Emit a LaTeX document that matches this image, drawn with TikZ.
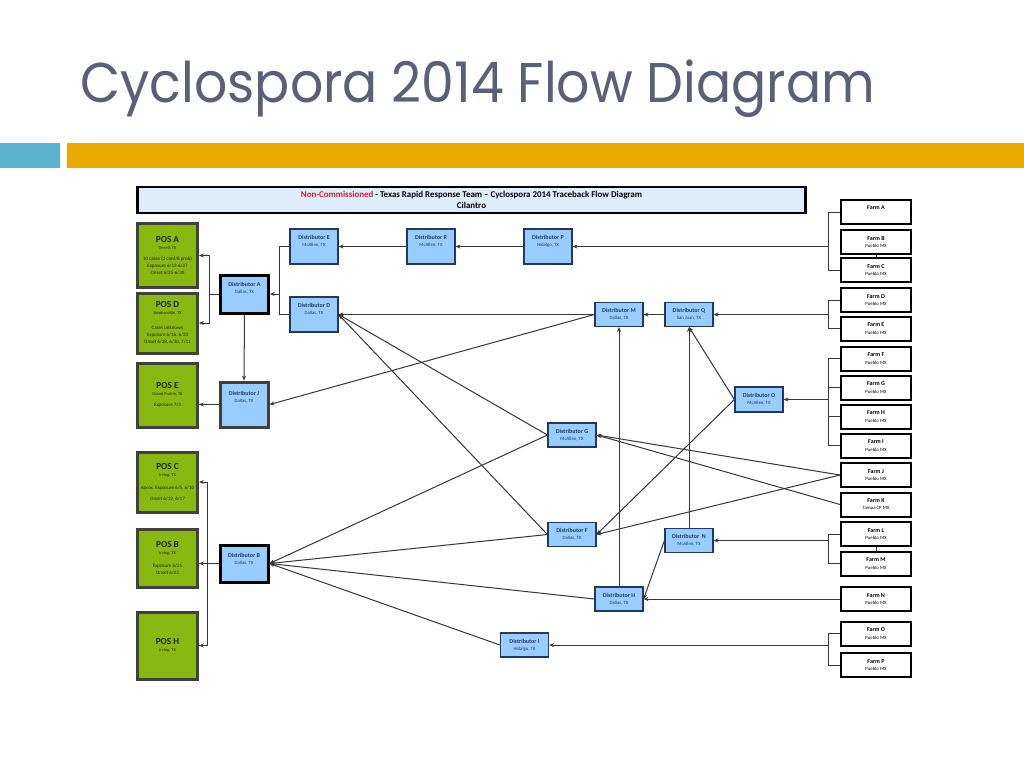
\documentclass[tikz,border=0pt]{standalone}
\usepackage{fontspec}
\usepackage{graphicx}
\setmainfont{Carlito}
\newfontfamily\titlefont{Poppins}
\usetikzlibrary{arrows.meta}
\definecolor{titlegray}{RGB}{90,96,120}
\definecolor{tealbar}{RGB}{91,178,206}
\definecolor{goldbar}{RGB}{234,170,0}
\definecolor{posgreen}{RGB}{138,184,18}
\definecolor{posedge}{RGB}{64,64,64}
\definecolor{postext}{RGB}{25,40,0}
\definecolor{distblue}{RGB}{153,204,255}
\definecolor{distedge}{RGB}{31,56,100}
\definecolor{bannerblue}{RGB}{221,237,250}
\definecolor{linegray}{RGB}{55,55,55}
\definecolor{ncred}{RGB}{220,30,40}
\newcommand{\cityfont}{\fontsize{2.4}{3.2}\selectfont\mdseries}
\newcommand{\posfont}{\fontsize{4.6}{5.6}\selectfont\bfseries}

\begin{document}
\begin{tikzpicture}[x=0.5pt,y=-0.5pt,
    posbox/.style={draw=posedge,line width=1.5pt,fill=posgreen,text=postext,minimum width=30pt,
      inner sep=0pt,align=center,font=\fontsize{2.5}{3.5}\selectfont},
    distbox/.style={draw=distedge,line width=0.6pt,fill=distblue,text=distedge,minimum width=24pt,
      minimum height=12pt,inner sep=0pt,align=center,font=\fontsize{3}{3.6}\selectfont\bfseries},
    hubbox/.style={distbox,draw=black,line width=1.5pt},
    farmbox/.style={draw=black,line width=1pt,fill=white,minimum width=35pt,minimum height=12pt,
      inner sep=0pt,align=center,font=\fontsize{3}{3.6}\selectfont\bfseries},
    banner/.style={draw=black,line width=1.3pt,fill=bannerblue,minimum width=334pt,minimum height=13pt,
      inner sep=0pt,align=center,font=\fontsize{4.45}{5.2}\selectfont\bfseries},
    flow/.style={draw=linegray,line width=0.5pt,-{Stealth[length=2.4pt,width=2pt]}},
    link/.style={draw=linegray,line width=0.5pt}]
    \useasboundingbox (0,0) rectangle (1024,768);
    \fill[white] (0,0) rectangle (1024,768);
    % slide title and bars
    \node[anchor=base west,inner sep=0pt,text=titlegray,font=\titlefont\fontsize{28}{30}\selectfont] (title) at (80,102) {\scalebox{0.93}[1]{Cyclospora 2014 Flow Diagram}};
    \fill[tealbar] (0,143) rectangle (60,168);
    \fill[goldbar] (67,143) rectangle (1024,168);
    \node[banner] (hdr) at (471.5,200) {{\color{ncred}Non-Commissioned} - Texas Rapid Response Team -- Cyclospora 2014 Traceback Flow Diagram\\Cilantro};
    % points of sale
    \node[posbox,minimum height=32pt] (posA) at (167.5,255.5) {{\posfont POS A}\\{\fontsize{2.2}{3.6}\selectfont Terrell, TX}\\[2pt]10 cases (2 conf/8 prob)\\Exposure 6/13-6/27\\Onset 6/25-6/30};
    \node[posbox,minimum height=30pt] (posD) at (167.5,323) {{\posfont POS D}\\{\fontsize{2.2}{3.6}\selectfont Stephenville, TX}\\[4pt]Cases unknown\\Exposure 6/16, 6/23\\Onset 6/28, 6/30, 7/11};
    \node[posbox,minimum height=32pt] (posE) at (167.5,395) {{\posfont POS E}\\{\fontsize{2.2}{3.6}\selectfont Grand Prairie, TX}\\[2pt]Exposure 7/3};
    \node[posbox,minimum height=30pt] (posC) at (167.5,482) {{\posfont POS C}\\{\fontsize{2.2}{3.6}\selectfont Irving, TX}\\[3pt]Aprox. Exposure 6/5, 6/10\\[2pt]Onset 6/12, 6/17};
    \node[posbox,minimum height=29pt] (posB) at (167.5,558.5) {{\posfont POS B}\\{\fontsize{2.2}{3.6}\selectfont Irving, TX}\\[3pt]Exposure 6/21\\Onset 6/23};
    \node[posbox,minimum height=33.5pt] (posH) at (167.5,645.5) {{\posfont POS H}\\{\fontsize{2.2}{3.6}\selectfont Irving, TX}};
    % distributors
    \node[hubbox,minimum height=19pt,text depth=6pt] (distA) at (244.5,294) {Distributor A\\{\cityfont Dallas, TX}};
    \node[hubbox,draw=posedge,minimum height=22.5pt,text depth=8pt] (distJ) at (244,404.5) {Distributor J\\{\cityfont Dallas, TX}};
    \node[hubbox,minimum height=18.5pt,text depth=5pt] (distB) at (244,563.5) {Distributor B\\{\cityfont Dallas, TX}};
    \node[distbox,minimum height=17.5pt,text depth=6pt] (distE) at (314,246.5) {Distributor E\\{\cityfont McAllen, TX}};
    \node[distbox,minimum height=17.5pt,text depth=6pt] (distR) at (431,246.5) {Distributor R\\{\cityfont McAllen, TX}};
    \node[distbox,minimum height=17.5pt,text depth=6pt] (distP) at (548,246.5) {Distributor P\\{\cityfont Hidalgo, TX}};
    \node[distbox,minimum height=17.5pt,text depth=6pt] (distD) at (314,314.5) {Distributor D\\{\cityfont Dallas, TX}};
    \node[distbox] (distM) at (619,314.5) {Distributor M\\{\cityfont Dallas, TX}};
    \node[distbox] (distQ) at (689,314.5) {Distributor Q\\{\cityfont San Juan, TX}};
    \node[distbox,minimum height=12.5pt] (distO) at (759,399.5) {Distributor O\\{\cityfont McAllen, TX}};
    \node[distbox] (distG) at (572,435) {Distributor G\\{\cityfont McAllen, TX}};
    \node[distbox] (distF) at (572,534.5) {Distributor F\\{\cityfont Dallas, TX}};
    \node[distbox] (distN) at (689,540.5) {Distributor\ \ N\\{\cityfont McAllen, TX}};
    \node[distbox] (distH) at (619,599) {Distributor H\\{\cityfont Dallas, TX}};
    \node[distbox] (distI) at (524.5,645) {Distributor I\\{\cityfont Hidalgo, TX}};
    % farms
    \node[farmbox,text depth=4pt] (farmA) at (876,212) {Farm A};
    \node[farmbox] (farmB) at (876,242) {Farm B\\{\cityfont Pueblo MX}};
    \node[farmbox] (farmC) at (876,270) {Farm C\\{\cityfont Pueblo MX}};
    \node[farmbox] (farmD) at (876,300) {Farm D\\{\cityfont Pueblo MX}};
    \node[farmbox] (farmE) at (876,328.5) {Farm E\\{\cityfont Pueblo MX}};
    \node[farmbox] (farmF) at (876,358.5) {Farm F\\{\cityfont Pueblo MX}};
    \node[farmbox] (farmG) at (876,387.5) {Farm G\\{\cityfont Pueblo MX}};
    \node[farmbox] (farmH) at (876,416.5) {Farm H\\{\cityfont Pueblo MX}};
    \node[farmbox] (farmI) at (876,445.5) {Farm I\\{\cityfont Pueblo MX}};
    \node[farmbox] (farmJ) at (876,475) {Farm J\\{\cityfont Pueblo MX}};
    \node[farmbox] (farmK) at (876,504.5) {Farm K\\{\cityfont Tampa CP MX}};
    \node[farmbox] (farmL) at (876,534) {Farm L\\{\cityfont Pueblo MX}};
    \node[farmbox] (farmM) at (876,563.5) {Farm M\\{\cityfont Pueblo MX}};
    \node[farmbox] (farmN) at (876,599) {Farm N\\{\cityfont Pueblo MX}};
    \node[farmbox] (farmO) at (876,633.5) {Farm O\\{\cityfont Pueblo MX}};
    \node[farmbox] (farmP) at (876,665) {Farm P\\{\cityfont Pueblo MX}};
    % bracket points
    \coordinate (brA) at (209,294);
    \coordinate (brB) at (207,563.5);
    \coordinate (brED) at (279,294);
    \coordinate (brABC) at (828,246.5);
    \coordinate (brDE) at (828,314.5);
    \coordinate (brFI) at (828,399.5);
    \coordinate (brLM) at (828,540.5);
    \coordinate (brOP) at (828,645);
    % farms to distributors
    \draw[link] (farmA.west) -| (brABC);
    \draw[link] (farmC.west) -| (brABC);
    \draw[link] (farmB.south) -- (farmC.north);
    \draw[flow] (brABC) -- (distP.east);
    \draw[link] (farmD.west) -| (brDE);
    \draw[link] (farmE.west) -| (brDE);
    \draw[flow] (brDE) -- (distQ.east);
    \draw[link] (farmF.west) -| (brFI);
    \draw[link] (farmI.west) -| (brFI);
    \draw[link] (farmG.west) -- (farmG.west -| brFI);
    \draw[link] (farmH.west) -- (farmH.west -| brFI);
    \draw[flow] (brFI) -- (distO.east);
    \draw[flow] (farmJ.west) -- (distG.east);
    \draw[flow] (farmK.west) -- (distG.east);
    \draw[flow] (farmJ.west) -- (distF.east);
    \draw[link] (farmL.west) -| (brLM);
    \draw[link] (farmM.west) -| (brLM);
    \draw[link] (farmL.south) -- (farmM.north);
    \draw[flow] (brLM) -- (distN.east);
    \draw[flow] (farmN.west) -- (distH.east);
    \draw[link] (farmO.west) -| (brOP);
    \draw[link] (farmP.west) -| (brOP);
    \draw[flow] (brOP) -- (distI.east);
    % between distributors
    \draw[flow] (distP.west) -- (distR.east);
    \draw[flow] (distR.west) -- (distE.east);
    \draw[flow] (distQ.west) -- (distM.east);
    \draw[flow] (distO.west) -- (distQ.south);
    \draw[flow] (distO.west) -- (distF.east);
    \draw[flow] (distN.north) -- (distQ.south);
    \draw[flow] (distH.north) -- (distM.south);
    \draw[flow] (distN.west) -- (distH.east);
    \draw[flow] (distM.west) -- (distD.east);
    \draw[flow] (distM.west) -- (distJ.east);
    \draw[flow] (distG.west) -- (distD.east);
    \draw[flow] (distF.west) -- (distD.east);
    \draw[flow] (distG.west) -- (distB.east);
    \draw[flow] (distF.west) -- (distB.east);
    \draw[flow] (distH.west) -- (distB.east);
    \draw[flow] (distI.west) -- (distB.east);
    \draw[link] (distE.west) -| (brED);
    \draw[link] (distD.west) -| (brED);
    \draw[flow] (brED) -- (distA.east);
    \draw[flow] (distA.south) -- (distJ.north);
    % distributors to points of sale
    \draw[link] (distA.west) -- (brA);
    \draw[flow] (brA) |- (posA.east);
    \draw[flow] (brA) |- (posD.east);
    \draw[flow] (distJ.west) -- (distJ.west -| posE.east);
    \draw[link] (distB.west) -- (brB);
    \draw[flow] (brB) |- (posC.east);
    \draw[flow] (brB) -- (brB -| posB.east);
    \draw[flow] (brB) |- (posH.east);
\end{tikzpicture}
\end{document}
